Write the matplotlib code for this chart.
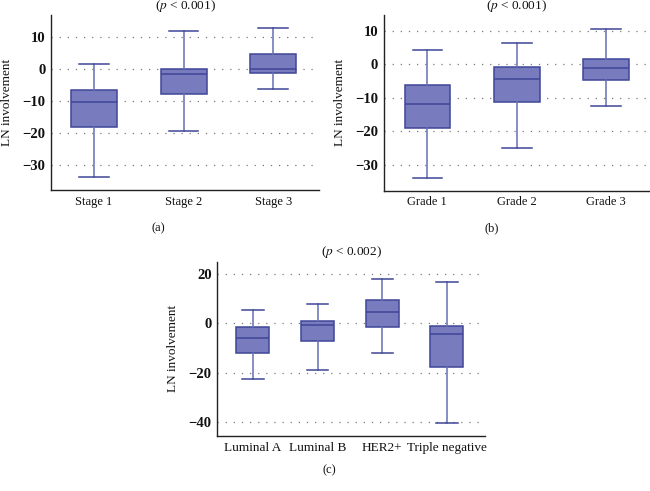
import matplotlib
matplotlib.use("Agg")
import matplotlib.pyplot as plt

# ---- data ----
stage_labels = ["Stage 1", "Stage 2", "Stage 3"]
stage_whislo = [-33.7, -19.5, -6.2]
stage_q1 = [-18.2, -8.0, -1.4]
stage_med = [-10.5, -1.8, 0.0]
stage_q3 = [-6.6, 0.0, 4.6]
stage_whishi = [1.5, 11.8, 12.8]

grade_labels = ["Grade 1", "Grade 2", "Grade 3"]
grade_whislo = [-33.9, -24.9, -12.4]
grade_q1 = [-19.0, -11.2, -4.6]
grade_med = [-11.9, -4.4, -1.2]
grade_q3 = [-6.2, -0.7, 1.6]
grade_whishi = [4.2, 6.3, 10.7]

sub_labels = ["Luminal A", "Luminal B", "HER2+", "Triple negative"]
sub_whislo = [-22.5, -18.7, -12.0, -40.4]
sub_q1 = [-12.1, -7.3, -1.6, -17.7]
sub_med = [-5.9, -0.8, 4.6, -4.4]
sub_q3 = [-1.6, 0.8, 9.5, -1.2]
sub_whishi = [5.4, 7.8, 17.8, 16.8]

FILL = "#787cbf"
EDGE = "#3f4597"
WHISK = "#6670b3"

plt.rcParams["font.family"] = ["Liberation Serif", "DejaVu Serif"]
plt.rcParams["mathtext.fontset"] = "stix"

fig = plt.figure(figsize=(6.5, 4.91), dpi=100)
W, H = 650.0, 491.0


def panel(rect, labels, lo, q1, med, q3, hi, xlim, ylim, yticks, title, title_y, tag, tagx, tagy, xfs):
    ax = fig.add_axes(rect)
    stats = []
    for i in range(len(labels)):
        stats.append(dict(whislo=lo[i], q1=q1[i], med=med[i], q3=q3[i], whishi=hi[i], fliers=[], label=labels[i]))
    ax.bxp(stats, positions=range(1, len(labels) + 1), widths=0.51, patch_artist=True,
           showfliers=False, capwidths=0.33,
           boxprops=dict(facecolor=FILL, edgecolor=EDGE, linewidth=1.1),
           medianprops=dict(color=EDGE, linewidth=1.1),
           whiskerprops=dict(color=WHISK, linewidth=1.1),
           capprops=dict(color=EDGE, linewidth=1.1))
    ax.set_xlim(*xlim)
    ax.set_ylim(*ylim)
    ax.set_yticks(yticks)
    ax.set_yticklabels([("\u2212" + str(-t)) if t < 0 else str(t) for t in yticks])
    for t in yticks:
        ax.axhline(t, color="#7a7a7a", linestyle=(0, (1, 5.5)), linewidth=0.9, zorder=0)
    for s in ["top", "right"]:
        ax.spines[s].set_visible(False)
    for s in ["left", "bottom"]:
        ax.spines[s].set_color("#222222")
        ax.spines[s].set_linewidth(1.0)
    ax.tick_params(axis="both", length=0, colors="#111111", pad=4)
    ax.tick_params(axis="x", labelsize=xfs)
    ax.tick_params(axis="y", labelsize=10.5)
    for lab in ax.get_yticklabels():
        lab.set_fontweight("bold")
    ax.set_ylabel("LN involvement", fontsize=9.5, color="#111111")
    ax.yaxis.set_label_coords(-0.142, 0.5)
    cx = rect[0] + rect[2] / 2
    fig.text(cx, 1 - title_y / H, title, ha="center", va="center", fontsize=9.5, color="#111111")
    fig.text(tagx / W, 1 - tagy / H, tag, ha="center", va="center", fontsize=9, color="#111111")
    return ax


panel([51 / W, 0.613, 268 / W, 0.3565], stage_labels, stage_whislo, stage_q1, stage_med, stage_q3, stage_whishi,
      (0.52, 3.51), (-37.9, 16.8), [-30, -20, -10, 0, 10], r"($p$ < 0.001)", 6.5, "(a)", 158, 228, 9)
panel([383.5 / W, 0.6116, 266.5 / W, 0.358], grade_labels, grade_whislo, grade_q1, grade_med, grade_q3, grade_whishi,
      (0.51, 3.49), (-37.7, 14.8), [-30, -20, -10, 0, 10], r"($p$ < 0.001)", 6.5, "(b)", 492, 228, 9)
panel([217.3 / W, 0.112, 267.7 / W, 0.355], sub_labels, sub_whislo, sub_q1, sub_med, sub_q3, sub_whishi,
      (0.448, 4.59), (-45.5, 24.8), [-40, -20, 0, 20], r"($p$ < 0.002)", 251.5, "(c)", 329, 470, 9.5)

fig.savefig("out.png", dpi=100)
